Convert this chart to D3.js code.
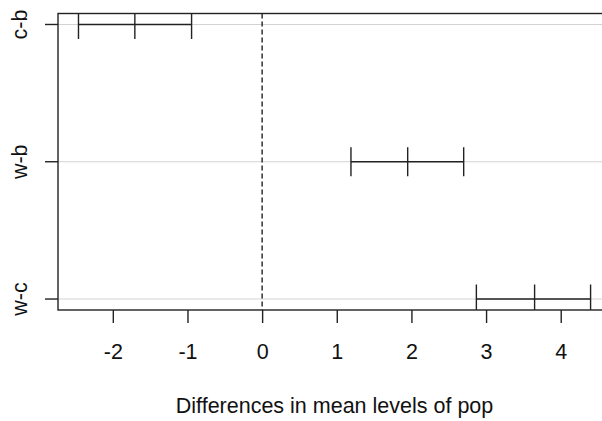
<!DOCTYPE html>
<html>
<head>
<meta charset="utf-8">
<script src="https://cdn.jsdelivr.net/npm/d3@7"></script>
<style>
  body { margin: 0; background: #fff; }
  text { font-family: "Liberation Sans", Arial, sans-serif; fill: #111; }
</style>
</head>
<body>
<div id="chart"></div>
<script>
// Tukey HSD intervals
const comparisons = ["c-b", "w-b", "w-c"]
const lwr = [-2.46, 1.19, 2.87]
const diff = [-1.705, 1.95, 3.65]
const upr = [-0.945, 2.70, 4.40]
const xTicks = [-2, -1, 0, 1, 2, 3, 4]
const xTitle = "Differences in mean levels of pop"

const w = 602
const h = 421
const margin = {left: 58, top: 13.5, bottom: 310}
const fontSize = "21.5px"

// R style 4% extension on the data range
const xmin = d3.min(lwr), xmax = d3.max(upr)
const pad = (xmax - xmin) * 0.04
const xScale = d3.scaleLinear()
  .domain([xmin - pad, xmax + pad])
  .range([margin.left, margin.left + 74.65 * (xmax - xmin + 2 * pad)])

const n = comparisons.length
const yScale = d3.scaleLinear()
  .domain([n + 0.04 * (n - 1), 1 - 0.04 * (n - 1)])
  .range([margin.top, margin.bottom])

const yPos = i => yScale(n - i)

const svg = d3.select("#chart")
  .append("svg")
  .attr("width", w)
  .attr("height", h)

const x0 = xScale.range()[0], x1 = xScale.range()[1]

// light grey guide lines
svg.append("g")
  .selectAll("line")
  .data(comparisons)
  .join("line")
  .attr("x1", x0)
  .attr("x2", x1)
  .attr("y1", (d, i) => yPos(i))
  .attr("y2", (d, i) => yPos(i))
  .style("stroke", "#d3d3d3")
  .style("stroke-width", 1.2)

// zero line
svg.append("line")
  .attr("x1", xScale(0))
  .attr("x2", xScale(0))
  .attr("y1", margin.top)
  .attr("y2", margin.bottom)
  .style("stroke", "#222")
  .style("stroke-width", 1.4)
  .style("stroke-dasharray", "5,3")

// clip for the interval ticks
svg.append("clipPath")
  .attr("id", "plotclip")
  .append("rect")
  .attr("x", x0)
  .attr("y", margin.top)
  .attr("width", x1 - x0)
  .attr("height", margin.bottom - margin.top)

const bars = svg.append("g")
  .attr("clip-path", "url(#plotclip)")
  .selectAll("g")
  .data(comparisons)
  .join("g")

bars.append("line")
  .attr("x1", (d, i) => xScale(lwr[i]))
  .attr("x2", (d, i) => xScale(upr[i]))
  .attr("y1", (d, i) => yPos(i))
  .attr("y2", (d, i) => yPos(i))
  .style("stroke", "#222")
  .style("stroke-width", 1.4)

const tickLen = 14.5
;[lwr, diff, upr].forEach(arr => {
  bars.append("line")
    .attr("x1", (d, i) => xScale(arr[i]))
    .attr("x2", (d, i) => xScale(arr[i]))
    .attr("y1", (d, i) => yPos(i) - tickLen)
    .attr("y2", (d, i) => yPos(i) + tickLen)
    .style("stroke", "#222")
    .style("stroke-width", 1.4)
})

// box
svg.append("rect")
  .attr("x", x0)
  .attr("y", margin.top)
  .attr("width", x1 - x0)
  .attr("height", margin.bottom - margin.top)
  .style("fill", "none")
  .style("stroke", "#222")
  .style("stroke-width", 1.4)

// x axis
const xAxis = d3.axisBottom(xScale)
  .tickValues(xTicks)
  .tickSize(13)
  .tickFormat(d => d < 0 ? "-" + Math.abs(d) : d)

const gx = svg.append("g")
  .attr("transform", `translate(0,${margin.bottom})`)
  .call(xAxis)
gx.select(".domain").remove()
gx.selectAll("line").style("stroke", "#222").style("stroke-width", 1.4)
gx.selectAll("text")
  .attr("dy", null)
  .attr("y", 49)
  .style("font-size", fontSize)
  .style("font-family", "'Liberation Sans', Arial, sans-serif")
  .style("fill", "#111")

// y axis ticks and labels
svg.append("g")
  .selectAll("line")
  .data(comparisons)
  .join("line")
  .attr("x1", x0 - 13)
  .attr("x2", x0)
  .attr("y1", (d, i) => yPos(i))
  .attr("y2", (d, i) => yPos(i))
  .style("stroke", "#222")
  .style("stroke-width", 1.4)

svg.append("g")
  .selectAll("text")
  .data(comparisons)
  .join("text")
  .attr("transform", (d, i) => `translate(27,${yPos(i)}) rotate(-90)`)
  .attr("text-anchor", "middle")
  .style("font-size", fontSize)
  .text(d => d)

svg.append("text")
  .attr("x", (x0 + x1) / 2)
  .attr("y", 413)
  .attr("text-anchor", "middle")
  .style("font-size", fontSize)
  .text(xTitle)
</script>
</body>
</html>
